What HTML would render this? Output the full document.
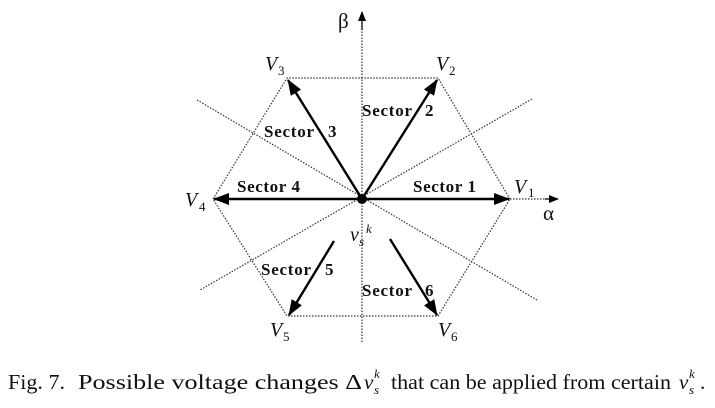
<!DOCTYPE html>
<html><head><meta charset="utf-8"><style>
html,body{margin:0;padding:0;background:#fff;}
svg{display:block;}
.b{font-family:"Liberation Serif",serif;font-weight:bold;font-size:17px;fill:#111;}
.i{font-family:"Liberation Serif",serif;font-style:italic;font-size:20px;fill:#111;}
.s{font-family:"Liberation Serif",serif;font-size:13px;fill:#111;}
.c{font-family:"Liberation Serif",serif;font-size:21px;fill:#111;}
</style></head><body>
<svg width="715" height="408" viewBox="0 0 715 408" xmlns="http://www.w3.org/2000/svg">
<defs>
<marker id="a" markerWidth="10" markerHeight="8" refX="9" refY="4" orient="auto" markerUnits="userSpaceOnUse" viewBox="0 0 10 8"><path d="M0,0 L10,4 L0,8 Z" fill="#000"/></marker>
<marker id="ab" markerWidth="16" markerHeight="12" refX="15" refY="6" orient="auto" markerUnits="userSpaceOnUse" viewBox="0 0 16 12"><path d="M0,0 L16,6 L0,12 Z" fill="#000"/></marker>
</defs>
<g stroke="#333" stroke-width="1.2" stroke-dasharray="1.5,1.5" fill="none">
<polygon points="510,199 438,78 287,78 213,199 287,316 438,316"/>
<line x1="197" y1="100" x2="537" y2="300"/>
<line x1="532" y1="99" x2="200" y2="290"/>
<line x1="362" y1="342" x2="362" y2="22"/>
<line x1="510" y1="199" x2="548" y2="199"/>
</g>
<line x1="362" y1="30" x2="362" y2="12" stroke="#000" stroke-width="1.2" marker-end="url(#a)"/>
<line x1="545" y1="199" x2="558" y2="199" stroke="#000" stroke-width="1.2" marker-end="url(#a)"/>
<g stroke="#000" stroke-width="2.4">
<line x1="362" y1="199" x2="509" y2="199" marker-end="url(#ab)"/>
<line x1="362" y1="199" x2="214" y2="199" marker-end="url(#ab)"/>
<line x1="362" y1="199" x2="437" y2="80" marker-end="url(#ab)"/>
<line x1="362" y1="199" x2="288" y2="80" marker-end="url(#ab)"/>
<line x1="334" y1="241" x2="289" y2="315" marker-end="url(#ab)"/>
<line x1="390" y1="239" x2="437" y2="315" marker-end="url(#ab)"/>
</g>
<circle cx="362" cy="199" r="5" fill="#000"/>
<text class="b" x="362" y="116" textLength="50">Sector</text><text class="b" x="425" y="116">2</text>
<text class="b" x="264" y="137" textLength="50">Sector</text><text class="b" x="328" y="137">3</text>
<text class="b" x="237" y="192" textLength="63">Sector 4</text>
<text class="b" x="413" y="192" textLength="63">Sector 1</text>
<text class="b" x="261" y="275" textLength="50">Sector</text><text class="b" x="325" y="275">5</text>
<text class="b" x="362" y="296" textLength="50">Sector</text><text class="b" x="425" y="296">6</text>
<text class="i" x="265" y="70">V</text><text class="s" x="278" y="75">3</text>
<text class="i" x="436" y="70">V</text><text class="s" x="449" y="75">2</text>
<text class="i" x="514" y="193">V</text><text class="s" x="528" y="197">1</text>
<text class="i" x="185" y="206">V</text><text class="s" x="199" y="211">4</text>
<text class="i" x="270" y="336">V</text><text class="s" x="283" y="341">5</text>
<text class="i" x="438" y="336">V</text><text class="s" x="451" y="341">6</text>
<text class="i" x="350" y="241">v</text><text class="s" x="359" y="246" font-style="italic">s</text><text class="s" x="366" y="233" font-style="italic">k</text>
<text x="543" y="220" font-family="Liberation Serif,serif" font-size="21" fill="#111">α</text>
<text x="338" y="28" font-family="Liberation Serif,serif" font-size="21" fill="#111">β</text>
<text class="c" x="8" y="389" textLength="57" lengthAdjust="spacingAndGlyphs">Fig. 7.</text>
<text class="c" x="78" y="389" textLength="284" lengthAdjust="spacingAndGlyphs">Possible voltage changes Δ</text>
<text class="c" x="364" y="389" font-style="italic">v</text>
<text x="374" y="394" font-family="Liberation Serif,serif" font-size="13" font-style="italic" fill="#111">s</text>
<text x="374" y="378" font-family="Liberation Serif,serif" font-size="13" font-style="italic" fill="#111">k</text>
<text class="c" x="391" y="389" textLength="280" lengthAdjust="spacingAndGlyphs">that can be applied from certain</text>
<text class="c" x="679" y="389" font-style="italic">v</text>
<text x="689" y="394" font-family="Liberation Serif,serif" font-size="13" font-style="italic" fill="#111">s</text>
<text x="689" y="378" font-family="Liberation Serif,serif" font-size="13" font-style="italic" fill="#111">k</text>
<text class="c" x="700" y="389">.</text>
</svg>
</body></html>
